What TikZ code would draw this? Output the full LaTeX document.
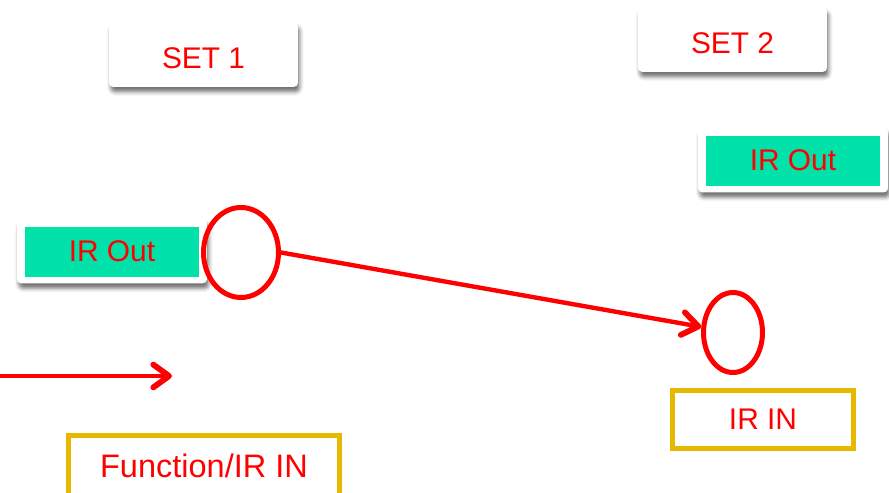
\documentclass[tikz,border=0pt]{standalone}
\usepackage{fontspec}
\setmainfont{Liberation Sans}
\usetikzlibrary{arrows.meta,shapes.geometric,shadows.blur}

\definecolor{irred}{RGB}{255,0,0}
\definecolor{irgreen}{RGB}{0,226,170}
\definecolor{iryellow}{RGB}{230,184,0}

\tikzset{
  label text/.style={text=irred,font=\fontsize{17}{20}\selectfont},
  card/.style={fill=white,rounded corners=2.5pt,inner sep=0pt,
    blur shadow={shadow xshift=1pt,shadow yshift=-2.8pt,shadow blur radius=2.2pt,shadow opacity=55}},
  setbox/.style={card,label text,minimum width=3.78cm,minimum height=1.3cm,
    text height=15.5pt,text depth=0pt},
  outbox/.style={card,label text,minimum width=3.8cm,minimum height=1.3cm,
    path picture={\fill[irgreen,sharp corners] ([shift={(4.8pt,-4.6pt)}]path picture bounding box.north west)
      rectangle ([shift={(-4.6pt,3.8pt)}]path picture bounding box.south east);}},
  inbox/.style={label text,draw=iryellow,line width=2.8pt,inner sep=0pt},
  port/.style={ellipse,draw=irred,line width=2.85pt,inner sep=0pt},
  link/.style={draw=irred,line width=2.5pt,line cap=round,line join=round,
    -{Straight Barb[length=9pt,width=13pt,line width=3.3pt,line cap=round,line join=round]}}
}

\begin{document}
\begin{tikzpicture}[x=0.02cm,y=-0.02cm]
  \clip (0,0) rectangle (889,493);

  % Sets
  \node[setbox] (set1) at (203.5,54.5) {SET 1};
  \node[setbox] (set2) at (732.5,39.5) {SET 2};

  % IR outputs
  \node[outbox] (out1) at (112,251) {IR Out};
  \node[outbox] (out2) at (793,160) {IR Out};

  % IR inputs
  \node[inbox,minimum width=5.43cm,minimum height=1.22cm,font=\fontsize{18.5}{22}\selectfont]
    (func) at (204,466) {Function/IR IN};
  \node[inbox,minimum width=3.62cm,minimum height=1.16cm] (in2) at (763,419.5) {IR IN};

  % Ports
  \node[port,minimum width=1.5cm,minimum height=1.8cm] (port1) at (241,252.5) {};
  \node[port,minimum width=1.18cm,minimum height=1.6cm] (port2) at (733,332.5) {};

  % Signals
  \coordinate (feedA) at (0,376);
  \coordinate (feedB) at (172,376);
  \draw[link] (port1.east) -- (port2);
  \draw[link] (feedA) -- (feedB);
\end{tikzpicture}
\end{document}
